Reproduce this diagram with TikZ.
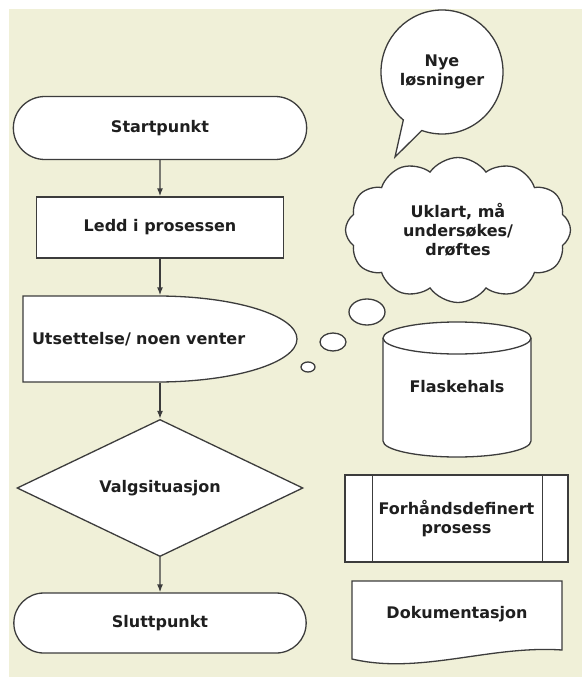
\documentclass[tikz,border=0pt]{standalone}
\usepackage{fontspec}
\setmainfont{DejaVu Sans}
\usetikzlibrary{shapes.geometric,shapes.misc,shapes.symbols,shapes.callouts,arrows.meta}
\definecolor{hintergrund}{RGB}{240,240,216}
\definecolor{linie}{RGB}{60,60,60}

\begin{document}
\begin{tikzpicture}[x=1pt,y=-1pt,line width=1.3pt,
		every node/.style={font=\bfseries\fontsize{16}{19}\selectfont, text=black!88, align=center},
		form/.style={draw=linie, fill=white},
		pfeil/.style={draw=linie, -{Latex[length=8pt,width=6pt]}}]
			%%Hintergrund
			\useasboundingbox (0,0) rectangle (582,677);
			\fill[hintergrund] (9,9) rectangle (582,677);

			%%Ablauf links
			\node[form, rounded rectangle, minimum width=300pt, minimum height=63pt] (start) at (160,128) {Startpunkt};
			\node[form, minimum width=247pt, minimum height=61pt] (ledd) at (160,227.5) {Ledd i prosessen};
			\filldraw[form] (23,296) -- (157,296) arc[start angle=90, end angle=-90, x radius=140pt, y radius=43pt] -- (23,382) -- cycle;
			\node[minimum width=274pt, minimum height=86pt, text width=256pt, align=left, inner sep=0pt] (utsett) at (160,339) {Utsettelse/ noen venter};
			\node[form, diamond, minimum width=286pt, minimum height=136pt, inner sep=0pt] (valg) at (160,488) {Valgsituasjon};
			\node[form, rounded rectangle, minimum width=299pt, minimum height=60pt] (slutt) at (160,623) {Sluttpunkt};

			%%Pfeile
			\foreach \a/\b in {start/ledd, ledd/utsett, utsett/valg, valg/slutt}
				\draw[pfeil] (\a) -- (\b);

			%%Blasen
			\node[form, ellipse callout, minimum width=122pt, minimum height=124pt, inner sep=0pt,
				callout absolute pointer={(395,157)}, callout pointer arc=20] (nye) at (442,72) {Nye\\løsninger};
			\node[form, cloud, cloud puffs=12, cloud puff arc=110, aspect=1.55, minimum width=225pt, minimum height=145pt, inner sep=0pt] (uklart) at (458,230) {Uklart, må\\undersøkes/\\drøftes};
			\node[form, ellipse, minimum width=36pt, minimum height=26pt, inner sep=0pt] (blase1) at (367,312) {};
			\node[form, ellipse, minimum width=26pt, minimum height=18pt, inner sep=0pt] (blase2) at (333,342) {};
			\node[form, ellipse, minimum width=14pt, minimum height=10pt, inner sep=0pt] (blase3) at (308,367) {};

			%%Flaskehals
			\filldraw[form] (383,338) -- (383,441) arc[start angle=180, end angle=360, x radius=74pt, y radius=16pt] -- (531,338) arc[start angle=0, end angle=180, x radius=74pt, y radius=16pt] -- cycle;
			\draw[linie] (383,338) arc[start angle=180, end angle=360, x radius=74pt, y radius=16pt];
			\node (flaske) at (457,387) {Flaskehals};

			%%Prozess und Dokument
			\node[form, minimum width=223pt, minimum height=87pt] (vordef) at (456.5,518.5) {Forhåndsdefinert\\prosess};
			\draw[linie] ([xshift=28pt]vordef.north west) -- ([xshift=28pt]vordef.south west);
			\draw[linie] ([xshift=-26pt]vordef.north east) -- ([xshift=-26pt]vordef.south east);
			\filldraw[form] (352,581) -- (562,581) -- (562,650) .. controls (490,645) and (420,675) .. (352,659) -- cycle;
			\node (doku) at (457,614) {Dokumentasjon};
		\end{tikzpicture}
\end{document}
